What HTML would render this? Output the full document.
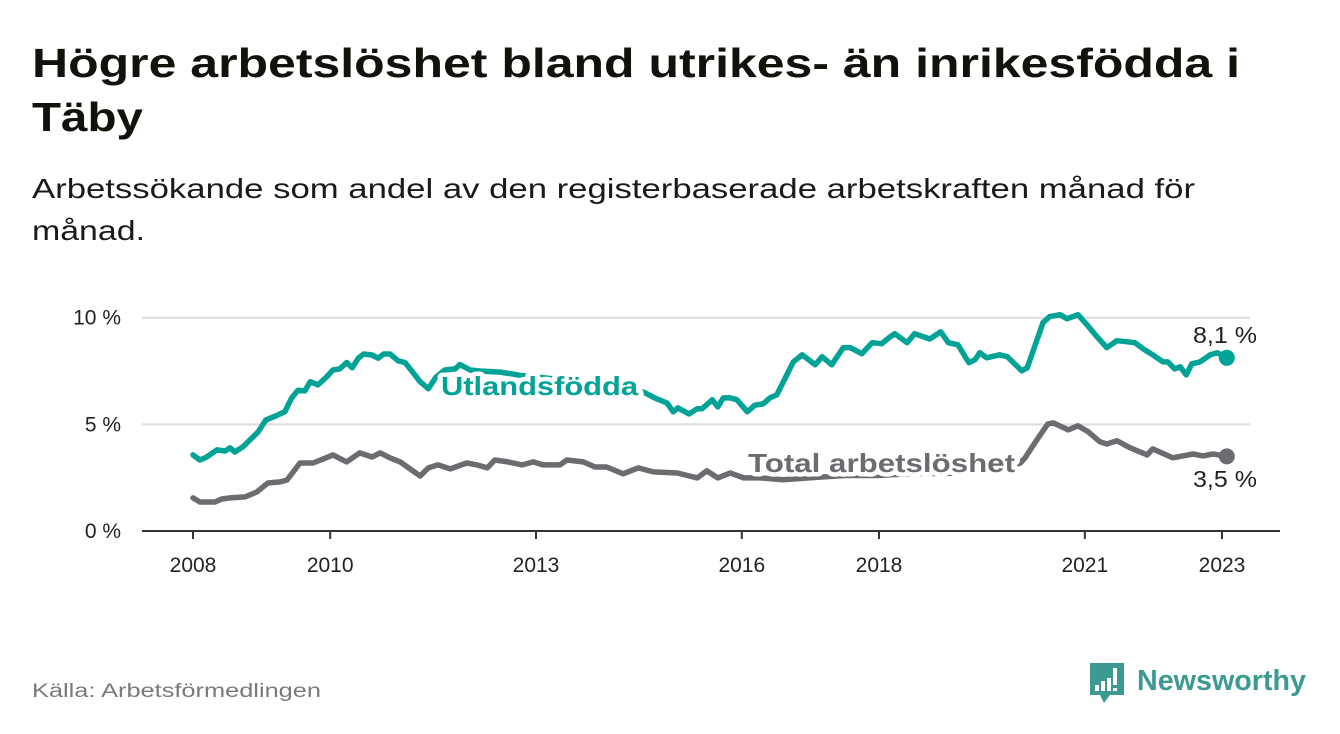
<!DOCTYPE html>
<html><head><meta charset="utf-8"><style>
html,body{margin:0;padding:0;background:#fff;}
svg{display:block;font-family:"Liberation Sans",sans-serif;}
</style></head><body>
<svg id="chart" width="1340" height="734" viewBox="0 0 1340 734">
<text x="32" y="77" font-size="41" font-weight="bold" fill="#12120d" textLength="1208" lengthAdjust="spacingAndGlyphs">Högre arbetslöshet bland utrikes- än inrikesfödda i</text>
<text x="32" y="131" font-size="41" font-weight="bold" fill="#12120d" textLength="111" lengthAdjust="spacingAndGlyphs">Täby</text>
<text x="32" y="198" font-size="28" fill="#1a1a1a" textLength="1163" lengthAdjust="spacingAndGlyphs">Arbetssökande som andel av den registerbaserade arbetskraften månad för</text>
<text x="32" y="240" font-size="28" fill="#1a1a1a" textLength="113" lengthAdjust="spacingAndGlyphs">månad.</text>
<g id="grid"></g>
<g id="xaxis"></g>
<g id="series"></g>
<text x="32" y="697" font-size="19" fill="#7a7a7a" textLength="289" lengthAdjust="spacingAndGlyphs">Källa: Arbetsförmedlingen</text>
<g>
<path d="M1090 663 h34 v32 h-14 l-6 8 l-4 -8 h-10 z" fill="#3d9a93"/>
<rect x="1095" y="685" width="4" height="6" fill="#fff"/>
<rect x="1101" y="681" width="4" height="10" fill="#fff"/>
<rect x="1107" y="678" width="4" height="13" fill="#fff"/>
<rect x="1113" y="668" width="4" height="17" fill="#fff"/>
<rect x="1113" y="688" width="4" height="3" fill="#fff"/>
<text x="1137" y="690" font-size="29" font-weight="bold" fill="#3d9a93" textLength="169" lengthAdjust="spacingAndGlyphs">Newsworthy</text>
</g>
</svg>
<script>
const yTicks = [0, 5, 10];
const yTickLabels = ["0 %", "5 %", "10 %"];
const xTicks = [2008, 2010, 2013, 2016, 2018, 2021, 2023];
const foreignDates = [2008.00,2008.10,2008.20,2008.35,2008.47,2008.54,2008.61,2008.73,2008.83,2008.95,2009.06,2009.21,2009.34,2009.44,2009.53,2009.63,2009.71,2009.82,2009.94,2010.04,2010.14,2010.24,2010.32,2010.41,2010.49,2010.61,2010.70,2010.78,2010.87,2010.99,2011.09,2011.19,2011.31,2011.43,2011.54,2011.67,2011.82,2011.89,2012.04,2012.18,2012.48,2012.77,2013.06,2013.35,2013.64,2013.93,2014.22,2014.44,2014.59,2014.73,2014.91,2015.00,2015.07,2015.23,2015.35,2015.42,2015.57,2015.65,2015.73,2015.83,2015.93,2016.08,2016.19,2016.31,2016.41,2016.51,2016.75,2016.88,2017.07,2017.17,2017.31,2017.48,2017.58,2017.75,2017.90,2018.04,2018.16,2018.23,2018.41,2018.52,2018.74,2018.90,2019.01,2019.15,2019.31,2019.40,2019.47,2019.57,2019.76,2019.87,2020.08,2020.16,2020.39,2020.49,2020.64,2020.74,2020.90,2021.03,2021.18,2021.32,2021.47,2021.62,2021.73,2021.85,2021.99,2022.14,2022.21,2022.31,2022.39,2022.48,2022.56,2022.68,2022.83,2022.93,2023.07];
const foreignValues = [3.57,3.33,3.47,3.8,3.75,3.9,3.7,3.95,4.27,4.65,5.2,5.4,5.6,6.25,6.6,6.57,7.0,6.85,7.2,7.55,7.6,7.9,7.65,8.1,8.3,8.25,8.1,8.3,8.3,7.98,7.9,7.5,7.0,6.67,7.2,7.55,7.6,7.8,7.55,7.5,7.45,7.3,7.2,7.1,7.0,6.9,6.8,6.6,6.48,6.24,6.0,5.59,5.77,5.49,5.73,5.73,6.15,5.82,6.24,6.24,6.15,5.59,5.9,5.96,6.24,6.38,7.93,8.26,7.79,8.17,7.79,8.6,8.6,8.31,8.83,8.78,9.1,9.25,8.83,9.25,9.0,9.34,8.83,8.73,7.89,8.03,8.36,8.12,8.26,8.17,7.51,7.65,9.77,10.05,10.14,9.95,10.14,9.67,9.1,8.6,8.92,8.87,8.83,8.54,8.26,7.93,7.93,7.6,7.7,7.32,7.84,7.93,8.26,8.36,8.12];
const totalDates = [2008.00,2008.10,2008.32,2008.42,2008.54,2008.76,2008.93,2009.09,2009.27,2009.37,2009.56,2009.75,2009.90,2010.04,2010.24,2010.43,2010.61,2010.73,2010.87,2011.02,2011.31,2011.43,2011.57,2011.75,2011.99,2012.14,2012.29,2012.40,2012.59,2012.80,2012.96,2013.10,2013.35,2013.45,2013.69,2013.86,2014.03,2014.27,2014.49,2014.71,2015.06,2015.35,2015.49,2015.65,2015.83,2016.03,2016.27,2016.6,2017.0,2017.5,2018.0,2018.5,2019.0,2019.5,2019.9,2020.06,2020.13,2020.30,2020.46,2020.54,2020.76,2020.90,2021.05,2021.22,2021.32,2021.47,2021.66,2021.91,2021.99,2022.28,2022.43,2022.58,2022.72,2022.87,2023.07];
const totalValues = [1.55,1.36,1.36,1.5,1.55,1.6,1.83,2.25,2.3,2.39,3.19,3.19,3.38,3.57,3.24,3.66,3.47,3.66,3.43,3.24,2.58,2.96,3.1,2.91,3.19,3.1,2.96,3.33,3.24,3.1,3.24,3.1,3.1,3.33,3.24,3.0,3.0,2.68,2.96,2.77,2.72,2.49,2.82,2.49,2.72,2.49,2.49,2.4,2.5,2.6,2.6,2.7,2.7,2.8,3.0,3.19,3.43,4.27,5.02,5.07,4.74,4.93,4.65,4.18,4.08,4.23,3.9,3.57,3.85,3.43,3.52,3.61,3.52,3.61,3.5];

const NS = "http://www.w3.org/2000/svg";
const X = t => 193 + (t - 2008) * 68.6;
const Y = v => 531 - v * 21.33;
function mk(tag, attrs, parent){ const e=document.createElementNS(NS,tag); for(const k in attrs) e.setAttribute(k,attrs[k]); parent.appendChild(e); return e; }

const grid = document.getElementById('grid');
yTicks.forEach((v,i)=>{
  if(v>0){
    const l = mk('line',{x1:142,x2:1250,y1:Y(v),y2:Y(v),stroke:'#dcdcdc','stroke-width':2},grid);
    
    
  }
  const t = mk('text',{x:121,y:Y(v)+7,'text-anchor':'end','font-size':21,fill:'#222'},grid);
  t.textContent = yTickLabels[i];
  
  
});
const xa = document.getElementById('xaxis');
const base = mk('line',{x1:142,x2:1280,y1:531,y2:531,stroke:'#333','stroke-width':2},xa);


xTicks.forEach(yr=>{
  const tk = mk('line',{x1:X(yr),x2:X(yr),y1:531,y2:539,stroke:'#333','stroke-width':2},xa);
  
  
  const t = mk('text',{x:X(yr),y:572,'text-anchor':'middle','font-size':21,fill:'#222'},xa);
  t.textContent = yr;
  
  
});

const sg = document.getElementById('series');
function line(dates, vals, color, name){
  const d = dates.map((t,i)=>(i?'L':'M')+X(t).toFixed(1)+' '+Y(vals[i]).toFixed(1)).join(' ');
  const p = mk('path',{d:d,fill:'none',stroke:color,'stroke-width':5.5,'stroke-linejoin':'round','stroke-linecap':'round'},sg);
  
  
  const n = dates.length-1;
  const c = mk('circle',{cx:X(dates[n]),cy:Y(vals[n]),r:8,fill:color},sg);
  
  
}
line(totalDates,totalValues,'#6c6b70','total-line');
line(foreignDates,foreignValues,'#00a396','foreign-born-line');

function label(txt,x,y,color,len,name,bold,size){
  const t = mk('text',{x:x,y:y,'font-size':size,'font-weight':bold?'bold':'normal',fill:color,stroke:'#fff','stroke-width':bold?9:6,'paint-order':'stroke','stroke-linejoin':'round',textLength:len,lengthAdjust:'spacingAndGlyphs'},sg);
  t.textContent = txt;
  
  
}
label('Utlandsfödda',441,395,'#00a396',197,'foreign-born-label',true,26);
label('Total arbetslöshet',748,472,'#6c6b70',267,'total-label',true,26);
const fl = foreignValues[foreignValues.length-1], tl = totalValues[totalValues.length-1];
label(fl.toFixed(1).replace('.',',')+' %',1193,343,'#222',64,'foreign-end-value',false,23);
label(tl.toFixed(1).replace('.',',')+' %',1193,487,'#222',64,'total-end-value',false,23);
</script>
</body></html>
